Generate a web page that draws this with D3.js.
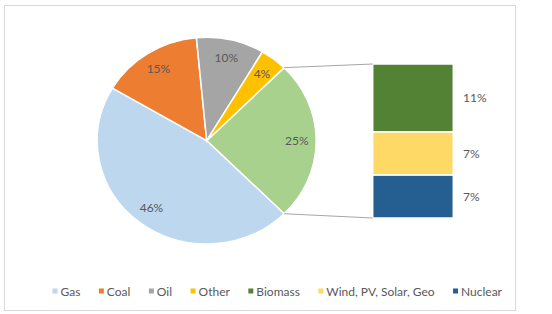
<!DOCTYPE html>
<html><head><meta charset="utf-8">
<script src="https://cdn.jsdelivr.net/npm/d3@7/dist/d3.min.js"></script>
<style>body{margin:0;background:#fff;}svg{display:block;}text{font-family:Lato,"Open Sans",sans-serif;}</style>
</head><body>
<svg id="c" width="552" height="314"></svg>
<script>
const mainCategories = ["Gas", "Coal", "Oil", "Other"];
const mainValues = [46, 15, 10, 4];
const otherTotal = 25;
const subCategories = ["Biomass", "Wind, PV, Solar, Geo", "Nuclear"];
const subValues = [11, 7, 7];
const legendLabels = ["Gas", "Coal", "Oil", "Other", "Biomass", "Wind, PV, Solar, Geo", "Nuclear"];

const mainColors = {"Gas":"#BDD7EE","Coal":"#ED7D31","Oil":"#A5A5A5","Other":"#FFC000","__other":"#A9D18E"};
const subColors = {"Biomass":"#548235","Wind, PV, Solar, Geo":"#FFD966","Nuclear":"#255E91"};
const legendColors = legendLabels.map(l => mainColors[l] || subColors[l]);

const svg = d3.select("#c");
svg.append("rect").attr("x",4.5).attr("y",5.5).attr("width",511).attr("height",305)
  .attr("fill","#fff").attr("stroke","#d9d9d9").attr("stroke-width",1);

const cx = 206.7, cy = 140.7, r = 103.3, sx = 1.06;
const textColor = "#595959";
const fs = 12;

const pieData = [{name:"__other", value: otherTotal, label: otherTotal}]
  .concat(mainCategories.map((c,i)=>({name:c, value:mainValues[i], label:mainValues[i]})));
const total = d3.sum(pieData, d=>d.value);
const startAngle = Math.PI/2 - (otherTotal/total)*Math.PI;
const pie = d3.pie().sort(null).value(d=>d.value)
  .startAngle(startAngle).endAngle(startAngle + 2*Math.PI);
const arcs = pie(pieData);
const arc = d3.arc().innerRadius(0).outerRadius(r);
const labelArc = d3.arc().innerRadius(85).outerRadius(85);

const g = svg.append("g").attr("transform",`translate(${cx},${cy}) scale(${sx},1)`);
g.selectAll("path").data(arcs).join("path")
  .attr("d", arc).attr("fill", d=>mainColors[d.data.name])
  .attr("stroke","#fff").attr("stroke-width",1.5).attr("vector-effect","non-scaling-stroke");

svg.selectAll("text.pl").data(arcs).join("text").attr("class","pl")
  .attr("x", d=>cx + labelArc.centroid(d)[0]*sx)
  .attr("y", d=>cy + labelArc.centroid(d)[1])
  .attr("text-anchor","middle").attr("dominant-baseline","central")
  .attr("font-size",fs).attr("fill",textColor)
  .text(d=>d.data.label+"%");

const y = d3.scaleLinear().domain([0, d3.sum(subValues)]).range([218, 64]);
const bx0 = 372.7, bx1 = 453.3;
const stack = [];
let acc = 0;
for (let i = subValues.length-1; i >= 0; i--) {
  stack.push({name: subCategories[i], v0: acc, v1: acc + subValues[i], value: subValues[i]});
  acc += subValues[i];
}
svg.selectAll("rect.sb").data(stack).join("rect").attr("class","sb")
  .attr("x", bx0).attr("width", bx1-bx0)
  .attr("y", d=>y(d.v1)).attr("height", d=>y(d.v0)-y(d.v1))
  .attr("fill", d=>subColors[d.name]).attr("stroke","#fff").attr("stroke-width",1.5);
svg.selectAll("text.bl").data(stack).join("text").attr("class","bl")
  .attr("x", 463).attr("y", d=>(y(d.v0)+y(d.v1))/2)
  .attr("dominant-baseline","central").attr("font-size",fs).attr("fill",textColor)
  .text(d=>d.value+"%");

const oa = arcs[0];
const pt = a => [cx + Math.sin(a)*r*sx, cy - Math.cos(a)*r];
const p1 = pt(oa.startAngle), p2 = pt(oa.endAngle);
svg.append("line").attr("x1",p1[0]).attr("y1",p1[1]).attr("x2",bx0).attr("y2",y(acc))
  .attr("stroke","#a6a6a6").attr("stroke-width",1);
svg.append("line").attr("x1",p2[0]).attr("y1",p2[1]).attr("x2",bx0).attr("y2",y(0))
  .attr("stroke","#a6a6a6").attr("stroke-width",1);

// legend: lay out items to span from first marker to end of last text
const lg = svg.append("g");
const ly = 291, lStart = 52.5, lEnd = 502;
const items = legendLabels.map((l,i)=>{
  const gi = lg.append("g");
  gi.append("rect").attr("x",0).attr("y",ly-2.5).attr("width",5).attr("height",5).attr("fill",legendColors[i]);
  const t = gi.append("text").attr("x",8).attr("y",ly).attr("dominant-baseline","central")
    .attr("font-size",fs).attr("fill",textColor).text(l);
  return {gi, w: 8 + t.node().getComputedTextLength()};
});
const gap = (lEnd - lStart - d3.sum(items, d=>d.w)) / (items.length - 1);
let lx = lStart;
items.forEach(it=>{ it.gi.attr("transform",`translate(${lx},0)`); lx += it.w + gap; });
</script>
</body></html>
